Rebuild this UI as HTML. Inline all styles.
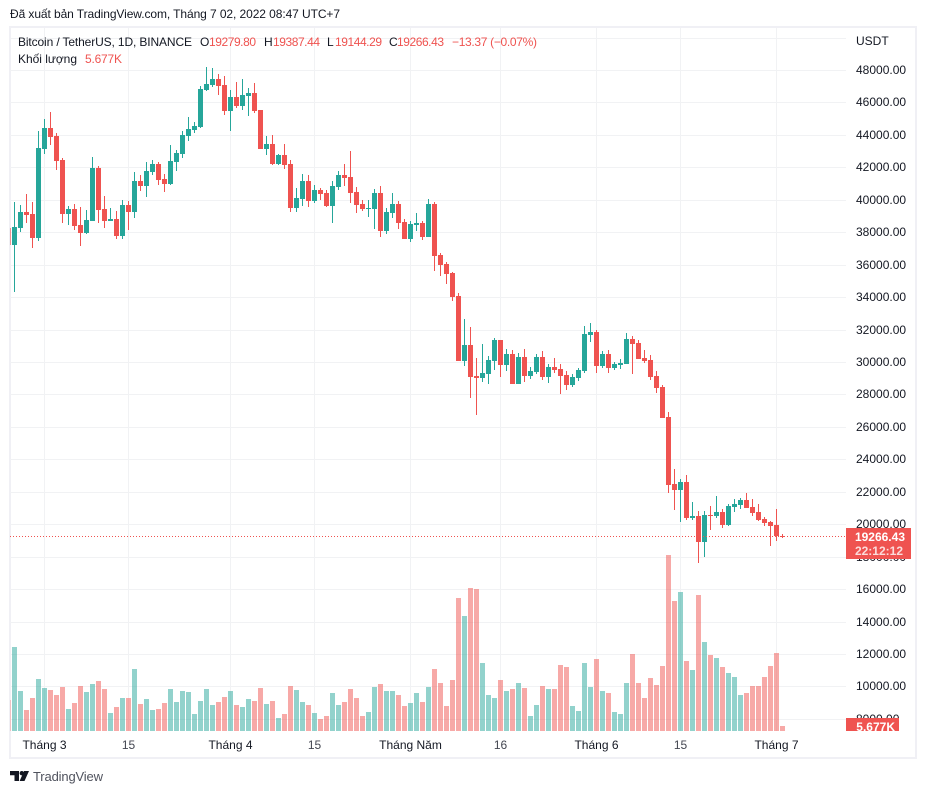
<!DOCTYPE html>
<html lang="vi">
<head>
<meta charset="utf-8">
<title>BTC/USDT chart</title>
<style>
html,body{margin:0;padding:0;background:#fff;width:926px;height:794px;overflow:hidden}
svg{display:block;font-family:"Liberation Sans","Noto Sans CJK JP",sans-serif}
</style>
</head>
<body>
<svg id="chart" xmlns="http://www.w3.org/2000/svg" width="926" height="794" viewBox="0 0 926 794">
  <defs>
    <clipPath id="pane-clip"><rect x="10.4" y="28" width="835.6" height="703"/></clipPath>
    <clipPath id="axis-clip"><rect x="846" y="28" width="70" height="703"/></clipPath>
  </defs>
  <rect x="0" y="0" width="926" height="794" fill="#ffffff"/>
  <text x="10" y="18" font-size="12" fill="#131722" textLength="330" lengthAdjust="spacing">Đã xuất bản TradingView.com, Tháng 7 02, 2022 08:47 UTC+7</text>
  <rect x="10" y="27" width="906" height="731" fill="none" stroke="#f0f0f5" stroke-width="2"/>
  <g id="grid"></g>
  <g id="volumes" clip-path="url(#pane-clip)"></g>
  <g id="candles" clip-path="url(#pane-clip)"></g>
  <line id="last-line" x1="10" x2="846" stroke="#ef5350" stroke-width="1" stroke-dasharray="1 2"/>
  <g id="y-axis" font-size="12" fill="#131722"></g>
  <text x="856" y="45" font-size="12" fill="#131722">USDT</text>
  <g id="x-axis" font-size="12" fill="#131722" text-anchor="middle"></g>
  <g>
    <rect id="last-rect" x="846" y="528" width="65" height="31" fill="#ef5350"/>
    <text x="905" y="541" font-size="12" font-weight="bold" fill="#ffffff" text-anchor="end">19266.43</text>
    <text x="903" y="555" font-size="12" font-weight="bold" fill="#fbdcdb" text-anchor="end">22:12:12</text>
  </g>
  <g clip-path="url(#axis-clip)">
    <rect x="846" y="718" width="53" height="13" fill="#ef5350"/>
    <text x="895" y="731" font-size="12" font-weight="bold" fill="#ffffff" text-anchor="end">5.677K</text>
  </g>
  <g font-size="12">
    <text x="18" y="46" fill="#131722" textLength="174" lengthAdjust="spacing">Bitcoin / TetherUS, 1D, BINANCE</text>
    <text x="200" y="46" fill="#131722">O</text>
    <text x="209" y="46" fill="#ef5350" textLength="47" lengthAdjust="spacing">19279.80</text>
    <text x="264" y="46" fill="#131722">H</text>
    <text x="273" y="46" fill="#ef5350" textLength="47" lengthAdjust="spacing">19387.44</text>
    <text x="327" y="46" fill="#131722">L</text>
    <text x="335" y="46" fill="#ef5350" textLength="47" lengthAdjust="spacing">19144.29</text>
    <text x="389" y="46" fill="#131722">C</text>
    <text x="397" y="46" fill="#ef5350" textLength="47" lengthAdjust="spacing">19266.43</text>
    <text x="452" y="46" fill="#ef5350" textLength="85" lengthAdjust="spacing">−13.37 (−0.07%)</text>
    <text x="18" y="63" fill="#131722" textLength="59" lengthAdjust="spacing">Khối lượng</text>
    <text x="85" y="63" fill="#ef5350" textLength="37" lengthAdjust="spacing">5.677K</text>
  </g>
  <g>
    <path fill="#131722" d="M10 771H19V781H14.5V775.3H10Z M29 771L24.5 781H19.6L24.1 771Z"/>
    <circle cx="21.8" cy="773.2" r="2.2" fill="#131722"/>
    <text x="33" y="781" font-size="13" fill="#50535e" textLength="70" lengthAdjust="spacing">TradingView</text>
  </g>
</svg>
<script>
const firstIndex = -1;
const openPrices = [38260,
37210,38260,39250,39120,37640,43130,44430,43930,42450,39120,
39430,38450,37950,38690,41960,39430,38690,38810,37770,39680,
39250,41160,40850,41710,42200,41280,40970,42330,42820,43930,
44300,44490,46770,47080,47450,47080,45470,46340,45780,46400,
46580,45530,43130,43440,42200,42760,42200,39490,40050,41160,
39920,40600,40420,39620,40790,41530,41400,40480,39740,39430,
39430,40420,38070,39180,39740,38630,37580,38450,38570,37700,
39740,36600,36040,35480,34070,30060,31050,29130,29010,29260,
30060,31350,29810,30490,28640,30310,29130,29380,30310,29070,
29690,29570,29200,28580,29010,29440,31660,31850,29750,30490,
29630,29810,29880,31420,31170,30240,30120,29130,28460,26610,
22480,22110,22600,20380,20500,18900,20560,20500,20750,19950,
21060,21180,21490,21060,20750,20320,20130,19950,19279.8];
const highPrices = [38400,
39860,39680,40360,39860,44240,44980,45410,44120,42580,39620,
39740,39550,39370,42640,42080,40230,39490,39310,39990,39920,
41710,41530,42330,42450,42330,41590,43380,43070,44240,45100,
44800,47010,48190,48120,47750,47630,46770,47260,47450,46890,
47200,45530,43930,43990,42820,43440,42450,40730,41590,41530,
40910,40730,40600,41160,41770,42200,43010,40790,39990,39990,
40660,40850,39490,40420,39920,38810,38690,39180,38690,40050,
39860,36720,36160,35550,34250,32650,32160,30240,31110,30370,
31480,31350,30800,30740,30550,30800,29690,30490,30680,29880,
30240,29880,29440,29260,29630,32220,32400,31970,30680,30740,
30000,30180,31790,31600,31350,30740,30430,29440,28580,26920,
23400,22790,23030,21370,20810,20810,21120,21740,20940,21240,
21550,21610,21920,21550,21240,20440,20200,20940,19387.44];
const lowPrices = [37100,
34320,38010,38570,37030,37460,42820,43380,41840,38570,38450,
38140,37150,37890,38690,38570,38260,38690,37580,37580,38140,
38880,40540,40170,41530,40910,40480,40910,41770,42580,43620,
44120,44430,46710,46950,46460,45220,44240,45660,45530,45160,
45350,43130,42760,42140,42140,41900,39250,39250,39620,39550,
39800,39990,39550,38570,40600,40850,39800,39180,39310,38940,
38200,37700,37890,38880,38200,37580,37400,38070,37520,37700,
35610,35300,34810,33760,30060,29750,27780,26730,28770,28640,
29510,29070,29440,28640,28640,28770,28950,29260,28890,28700,
29320,28030,28270,28460,28830,29320,31230,29320,29630,29320,
29510,29570,29880,29260,30180,29940,28890,28090,26550,21920,
20870,20130,20260,20260,17610,17980,19640,20380,19760,19890,
20750,20940,21000,20500,20200,19890,18650,18960,19144.29];
const closePrices = [37210,
38320,39250,39060,37640,43190,44430,43870,42390,39120,39430,
38380,37950,38750,41960,39370,38690,38810,37770,39680,39250,
41160,40850,41770,42200,41220,40970,42390,42880,43990,44360,
44550,46830,47140,47450,47010,45470,46340,45780,46460,46580,
45470,43130,43440,42200,42760,42140,39490,40110,41160,39920,
40600,40360,39620,40850,41530,41340,40420,39680,39430,39490,
40420,38070,39250,39740,38570,37580,38500,38570,37700,39740,
36530,35980,35420,34000,30060,31050,29070,29010,29320,30120,
31350,29810,30490,28640,30310,29130,29440,30310,29070,29690,
29510,29130,28580,29070,29510,31720,31850,29750,30490,29630,
29880,29940,31420,31110,30180,30060,29070,28400,26550,22420,
22110,22600,20380,20500,18900,20560,20500,20750,19950,21120,
21240,21490,21000,20690,20260,20070,19890,19279,19266.43];
const volumesK = [34.8,
94.4,45.0,23.6,37.1,58.4,48.3,46.1,40.5,49.5,24.7,
31.5,50.6,43.8,52.8,56.2,47.2,20.2,27.0,37.1,37.1,
69.7,30.3,36.0,23.6,24.7,31.5,47.2,32.6,45.0,43.8,
19.1,33.7,47.2,29.2,32.6,38.2,45.0,29.2,27.0,36.0,
33.7,48.3,30.3,33.7,14.6,19.1,50.6,46.1,32.6,29.2,
20.2,13.5,16.9,42.7,29.2,32.6,47.2,37.1,16.9,21.4,
49.5,52.8,45.0,45.0,40.5,28.1,31.5,42.7,32.6,49.5,
69.7,54.0,28.1,57.3,149.5,129.3,160.7,159.6,76.4,40.5,
37.1,57.3,45.0,47.2,54.0,48.3,16.9,29.2,50.6,47.2,
47.2,74.2,71.9,28.1,22.5,76.4,49.5,80.9,45.0,42.7,
21.4,19.1,54.0,86.5,54.0,37.1,59.6,51.7,73.1,197.8,
146.1,156.2,78.7,68.6,152.9,100.0,85.4,82.1,71.9,65.2,
60.7,40.5,42.7,50.6,50.6,60.7,73.1,87.7,5.677];
const priceTicks = [50000,48000,46000,44000,42000,40000,38000,36000,34000,32000,30000,28000,26000,24000,22000,20000,18000,16000,14000,12000,10000,8000];
const timeTickIndices = [5,19,36,50,66,81,97,111,127];
const timeTickLabels = ["Tháng 3","15","Tháng 4","15","Tháng Năm","16","Tháng 6","15","Tháng 7"];
const timeTickMajor = [true,false,true,false,true,false,true,false,true];
const lastPrice = 19266.43;

const NS = "http://www.w3.org/2000/svg";
function priceY(p) { return 70 + (48000 - p) * 0.016221; }
function indexX(i) { return 14.5 + 6 * i; }
function volumeY(v) { return 731 - v / 197.8 * 176; }
function make(tag, attrs, parent) {
  const el = document.createElementNS(NS, tag);
  for (const k in attrs) el.setAttribute(k, attrs[k]);
  parent.appendChild(el);
  return el;
}

const gridG = document.getElementById("grid");
const yAxisG = document.getElementById("y-axis");
const xAxisG = document.getElementById("x-axis");
const volG = document.getElementById("volumes");
const candleG = document.getElementById("candles");

priceTicks.forEach(function (p) {
  const y = Math.round(priceY(p));
  const gl = make("rect", {x: 10, y: y, width: 836, height: 1, fill: "#f1f2f4"}, gridG);
  
  
  if (p === 50000) return;
  const t = make("text", {x: 856, y: y + 4}, yAxisG);
  
  
  t.textContent = p.toFixed(2);
});

timeTickIndices.forEach(function (idx, n) {
  const x = Math.floor(indexX(idx));
  const gl = make("rect", {x: x, y: 28, width: 1, height: 703, fill: "#f1f2f4"}, gridG);
  
  
  const t = make("text", {x: indexX(idx), y: 749, fill: timeTickMajor[n] ? "#131722" : "#434651"}, xAxisG);
  
  
  t.textContent = timeTickLabels[n];
});

openPrices.forEach(function (o, n) {
  const i = firstIndex + n;
  const c = closePrices[n];
  const up = c >= o;
  const x = indexX(i);
  const left = Math.floor(x) - 2;
  const vTop = Math.round(volumeY(volumesK[n]));
  const vb = make("rect", {x: left, y: vTop, width: 5, height: 731 - vTop, fill: up ? "rgba(38,166,154,0.5)" : "rgba(239,83,80,0.5)"}, volG);
  
  
  const color = up ? "#26a69a" : "#ef5350";
  const wickTop = Math.round(priceY(highPrices[n]));
  const wickBottom = Math.round(priceY(lowPrices[n]));
  const wick = make("rect", {x: Math.floor(x), y: wickTop, width: 1, height: Math.max(1, wickBottom - wickTop), fill: color}, candleG);
  
  
  const bodyTop = Math.round(priceY(Math.max(o, c)));
  const bodyBottom = Math.round(priceY(Math.min(o, c)));
  const body = make("rect", {x: left, y: bodyTop, width: 5, height: Math.max(1, bodyBottom - bodyTop), fill: color}, candleG);
  
  
});

const lastLine = document.getElementById("last-line");
const lastY = Math.round(priceY(lastPrice)) + 0.5;
lastLine.setAttribute("y1", lastY);
lastLine.setAttribute("y2", lastY);
</script>
</body>
</html>
